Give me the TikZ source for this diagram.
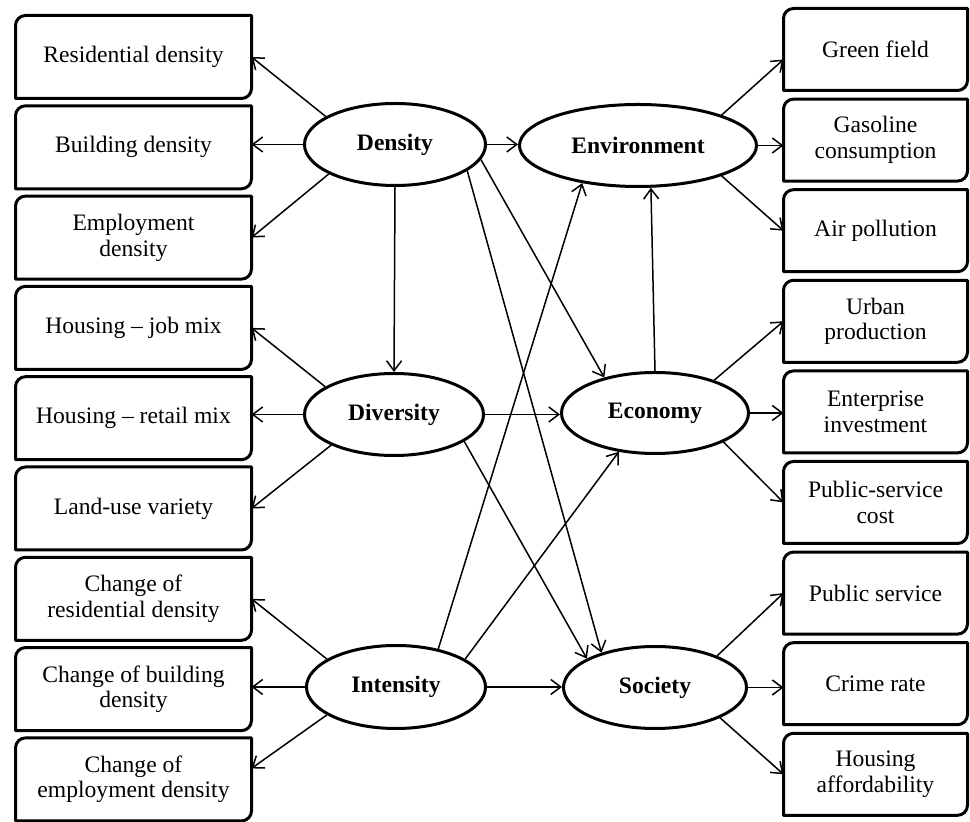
\documentclass[tikz,border=0pt]{standalone}
\usepackage{fontspec}
\setmainfont{Liberation Serif}
\usetikzlibrary{shapes.geometric,arrows.meta}

% outline of an item box: rounded top-left and bottom-right corners, square others
\newcommand\drawitembox[1]{%
  \draw[frame] (#1.south west) -- ([yshift=-5pt]#1.north west)
    arc[start angle=180,end angle=90,radius=5pt] -- (#1.north east)
    -- ([yshift=5pt]#1.south east)
    arc[start angle=0,end angle=-90,radius=5pt] -- cycle;}

\begin{document}
\begin{tikzpicture}[x=0.5pt,y=-0.5pt,
  txt/.style={font=\fontsize{11.8}{12.8}\selectfont, align=center},
  lbox/.style={txt, minimum width=118pt, minimum height=41.5pt, inner sep=1pt, outer sep=0pt},
  rbox/.style={txt, minimum width=92pt, minimum height=41pt, inner sep=1pt, outer sep=0pt},
  hub/.style={ellipse, draw, line width=1.5pt, inner sep=0pt,
              font=\fontsize{11.8}{12.8}\selectfont\bfseries},
  frame/.style={line width=1.5pt, line join=round},
  link/.style={line width=0.75pt,
               -{Straight Barb[length=5pt,width=7.5pt,line width=0.75pt]}}
]
\useasboundingbox (0,0) rectangle (970,822);

% left column of indicators
\node[lbox] (resd) at (133.5,57)    {Residential density};
\node[lbox] (bldd) at (133.5,147.3) {Building density};
\node[lbox] (empd) at (133.5,237.6) {Employment\\density};
\node[lbox] (hjob) at (133.5,327.9) {Housing – job mix};
\node[lbox] (hret) at (133.5,418.2) {Housing – retail mix};
\node[lbox] (luse) at (133.5,508.5) {Land-use variety};
\node[lbox] (cres) at (133.5,598.8) {Change of\\residential density};
\node[lbox] (cbld) at (133.5,689.1) {Change of building\\density};
\node[lbox] (cemp) at (133.5,779.4) {Change of\\employment density};

% right column of indicators
\node[rbox] (gfld) at (875.5,49.5)  {Green field};
\node[rbox] (gcon) at (875.5,140.1) {Gasoline\\consumption};
\node[rbox] (airp) at (875.5,230.7) {Air pollution};
\node[rbox] (urbp) at (875.5,321.3) {Urban\\production};
\node[rbox] (entr) at (875.5,411.9) {Enterprise\\investment};
\node[rbox] (psco) at (875.5,502.5) {Public-service\\cost};
\node[rbox] (psrv) at (875.5,593.1) {Public service};
\node[rbox] (crim) at (875.5,683.7) {Crime rate};
\node[rbox] (haff) at (875.5,774.3) {Housing\\affordability};

\foreach \b in {resd,bldd,empd,hjob,hret,luse,cres,cbld,cemp,
                gfld,gcon,airp,urbp,entr,psco,psrv,crim,haff}
  {\drawitembox{\b}}

% constructs
\node[hub, minimum width=90.5pt, minimum height=41pt]   (dens) at (395,144.5) {Density};
\node[hub, minimum width=89.5pt, minimum height=41pt]   (divr) at (394,414.5) {Diversity};
\node[hub, minimum width=89.5pt, minimum height=41.5pt] (ints) at (396,687)   {Intensity};
\node[hub, minimum width=118.5pt, minimum height=41pt]  (envr) at (638,145.5) {Environment};
\node[hub, minimum width=93.5pt, minimum height=40.5pt] (econ) at (655,413)   {Economy};
\node[hub, minimum width=91.5pt, minimum height=41pt]   (socy) at (655,687.5) {Society};

% constructs to their indicators
\draw[link] (dens.158) -- (resd.east);
\draw[link] (dens.west) -- (dens.west -| bldd.east);
\draw[link] (dens.204) -- (empd.east);
\draw[link] (divr.158) -- (hjob.east);
\draw[link] (divr.west) -- (divr.west -| hret.east);
\draw[link] (divr.206) -- (luse.east);
\draw[link] (ints.158) -- (cres.east);
\draw[link] (ints.west) -- (ints.west -| cbld.east);
\draw[link] (ints.202) -- ([yshift=5.5pt]cemp.east);

\draw[link] (envr.20)   -- ([yshift=-5pt]gfld.west);
\draw[link] (envr.east) -- (envr.east -| gcon.west);
\draw[link] (envr.340)  -- (airp.west);
\draw[link] (econ.29)   -- (urbp.west);
\draw[link] (econ.east) -- (econ.east -| entr.west);
\draw[link] (econ.337)  -- (psco.west);
\draw[link] (socy.27)   -- (psrv.west);
\draw[link] (socy.east) -- (socy.east -| crim.west);
\draw[link] (socy.335)  -- (haff.west);

% relations between constructs
\draw[link] (dens.south) -- (divr.north);
\draw[link] (dens.east)  -- (dens.east -| envr.west);
\draw[link] (dens.350)   -- (econ.145);
\draw[link] (dens.340)   -- (socy.147);
\draw[link] (divr.east)  -- (divr.east -| econ.west);
\draw[link] (divr.339)   -- (socy.157);
\draw[link] (ints.east)  -- (ints.east -| socy.west);
\draw[link] (ints.42)    -- (envr.214);
\draw[link] (ints.22)    -- (econ.227);
\draw[link] (econ.north) -- (envr.287);
\end{tikzpicture}
\end{document}
